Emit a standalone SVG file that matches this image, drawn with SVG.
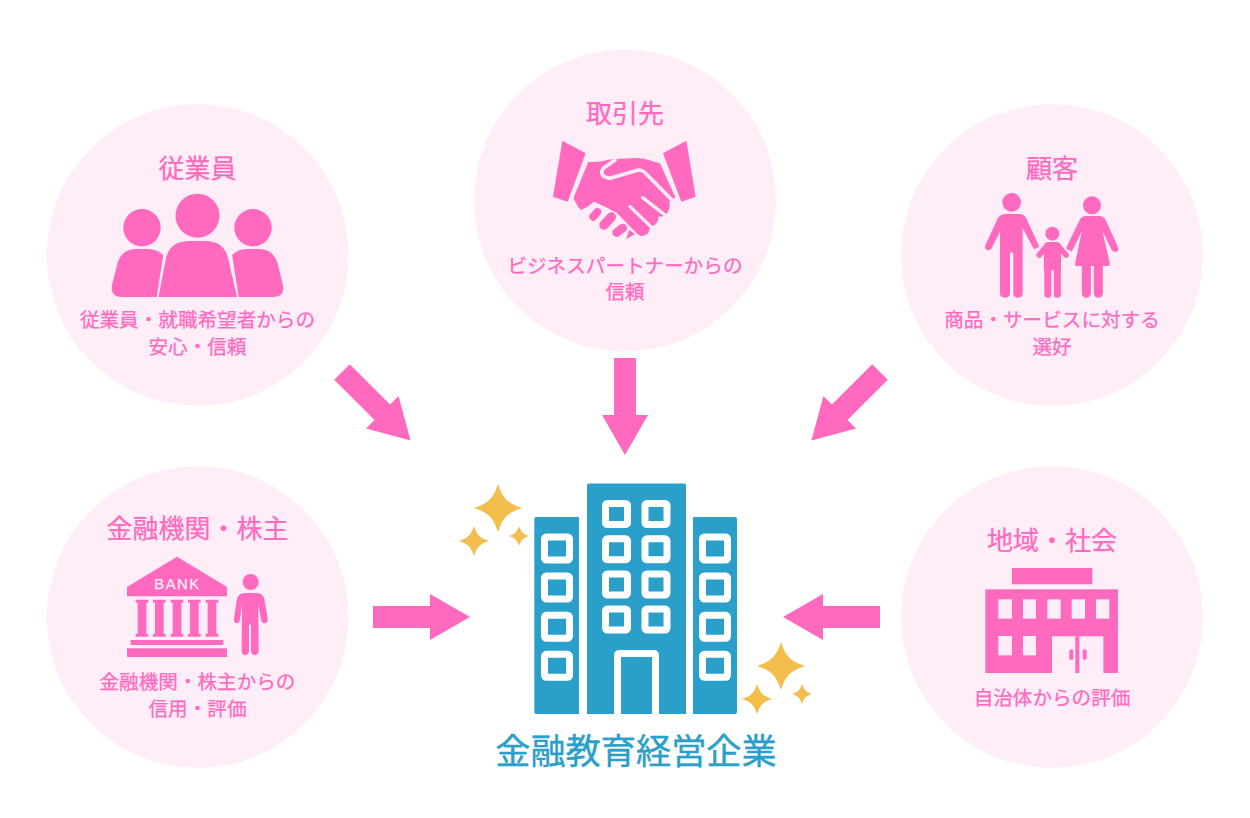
<svg xmlns="http://www.w3.org/2000/svg" width="1250" height="818" viewBox="0 0 1250 818">
<style>
text{font-family:"Noto Sans CJK JP","Noto Sans",sans-serif;text-anchor:middle;fill:#ff69be;stroke:#ff69be;stroke-width:.25px}
.t{font-size:26px}
.s{font-size:19.6px}
.bg{fill:#ffedf8}
.p{fill:#ff69be}
.ln{fill:none;stroke:#ff69be;stroke-linecap:round;stroke-linejoin:round}
.cut{fill:none;stroke:#ffedf8;stroke-linecap:round;stroke-linejoin:round}
.b{fill:#2a9fca}
.w{fill:none;stroke:#fff;stroke-width:7}
.star{fill:#f4be4c}
</style>
<defs>
<path id="arrow" class="p" d="M-11 0H11V57H23L0 97L-23 57H-11Z"/>
<path id="star" d="M0-1C.2-.4.4-.2 1 0C.4.2.2.4 0 1C-.2.4-.4.2-1 0C-.4-.2-.2-.4 0-1Z"/>
<rect id="wl" class="w" width="25" height="23" rx="2"/>
<rect id="wc" class="w" width="22" height="21" rx="2"/>
</defs>
<rect width="1250" height="818" fill="#fff"/>
<g id="connectors">
<use href="#arrow" transform="translate(625,358)"/>
<use href="#arrow" transform="translate(342,372) rotate(-45)"/>
<use href="#arrow" transform="translate(880,372) rotate(45)"/>
<use href="#arrow" transform="translate(373,617) rotate(-90)"/>
<use href="#arrow" transform="translate(880,617) rotate(90)"/>
</g>
<g id="employees">
<circle class="bg" cx="197.700" cy="255" r="151"/>
<text class="t" x="197.500" y="178">従業員</text>
<circle class="p" cx="197.500" cy="215.700" r="22"/>
<circle class="p" cx="142" cy="227.700" r="18.700"/>
<circle class="p" cx="253" cy="227.700" r="18.700"/>
<path class="p" d="M158.500 297L166 258Q170 241 190 241H205Q224 241 228 258L237 297Z"/>
<path class="p" d="M156.700 297L163.300 255Q157 249 148 249H136Q121 249 117 265L112 285Q110 297 122 297Z"/>
<path class="p" d="M238.700 297L232.100 255Q238 249 247 249H259Q274 249 278 265L283 285Q285 297 273 297Z"/>
<text class="s" x="197.500" y="327">従業員・就職希望者からの</text>
<text class="s" x="197.500" y="354">安心・信頼</text>
</g>
<g id="partners">
<circle class="bg" cx="625" cy="200.500" r="151"/>
<text class="t" x="625" y="123">取引先</text>
<g transform="translate(520,90) scale(.33333)">
<path class="p" d="M127 152L197 190L143 335L99 320Z"/>
<path class="p" d="M499 152L429 190L484 335L527 320Z"/>
</g>
<g transform="translate(570,150) scale(.33333)">
<path class="p" d="M55 35C80 40 110 28 135 27L205 24C230 26 250 35 270 40L316 142L298 155Q304 180 283 198L265 200Q268 220 240 233Q238 258 212 258L200 250L140 188L105 170L72 155L50 172L33 180L25 172L10 145Z"/>
<path class="cut" stroke-width="11" d="M135 30L100 55Q85 80 120 85L205 60Q220 60 232 75L308 152"/>
<path class="cut" stroke-width="10" d="M180 170L245 232M218 143L285 195"/>
<path class="ln" stroke-width="24" d="M70 200L82 186"/>
<path class="ln" stroke-width="28" d="M102 225L124 201"/>
<path class="ln" stroke-width="26" d="M140 248L158 234"/>
<path class="p" d="M168 268L195 252L178 240Z"/>
</g>
<text class="s" x="625" y="272.500">ビジネスパートナーからの</text>
<text class="s" x="625" y="299">信頼</text>
</g>
<g id="customers">
<circle class="bg" cx="1052" cy="255" r="151"/>
<text class="t" x="1052" y="178">顧客</text>
<g transform="translate(980,190) scale(.33333)">
<circle class="p" cx="95" cy="37" r="28"/>
<path class="p" d="M75 72H118Q132 72 139 85L178 170L162 178L128 115V310Q128 323 114 323Q100 323 100 310V190Q95 183 90 190V310Q90 323 75 323Q60 323 60 310V125L35 175Q28 185 18 178Q12 172 18 162L50 92Q58 72 75 72Z"/>
<circle class="p" cx="217" cy="131" r="21"/>
<path class="p" d="M192 240V170Q192 156 206 156H229Q243 156 243 170V240Z"/>
<path class="ln" stroke-width="17" d="M197 172L178 195M238 172L258 195"/>
<path class="ln" stroke-width="21" d="M203.500 235V313M232 235V313"/>
<circle class="p" cx="336" cy="46" r="27"/>
<path class="p" d="M318 78H358Q372 78 378 92L414 172Q418 183 408 186Q398 188 394 178L367 122L390 222Q390 228 384 228H290Q284 228 285 222L305 125L275 185L258 175L298 92Q304 78 318 78Z"/>
<path class="ln" stroke-width="27" d="M319 225V310M355 225V310"/>
</g>
<text class="s" x="1052" y="327">商品・サービスに対する</text>
<text class="s" x="1052" y="354">選好</text>
</g>
<g id="investors">
<circle class="bg" cx="197.700" cy="617" r="151"/>
<text class="t" x="197.500" y="538.300">金融機関・株主</text>
<g transform="translate(120,555) scale(.33333)">
<path class="p" d="M171 5L321 96V124H21V96Z"/>
<g class="p">
<path d="M47 134H85V143H79V236H85V245H47V236H53V143H47Z"/>
<path d="M99 134H137V143H131V236H137V245H99V236H105V143H99Z"/>
<path d="M152 134H190V143H184V236H190V245H152V236H158V143H152Z"/>
<path d="M204 134H242V143H236V236H242V245H204V236H210V143H204Z"/>
<path d="M257 134H295V143H289V236H295V245H257V236H263V143H257Z"/>
<rect x="32" y="255" width="278" height="15"/>
<rect x="21" y="280" width="300" height="26"/>
</g>
<circle class="p" cx="392" cy="81" r="24"/>
<path class="p" d="M375 114H410Q428 114 433 132L443 190Q445 205 434 205Q424 205 423 192L415 150L416 285Q416 300 404 300Q393 300 393 285V210Q390 205 387 210V285Q387 300 376 300Q365 300 365 285L366 150L360 192Q358 205 350 205Q341 205 342 190L351 132Q356 114 375 114Z"/>
</g>
<text x="177.500" y="589.300" style="font-family:'Liberation Sans',sans-serif;font-size:14.800px;fill:#ffedf8;stroke:#ffedf8;letter-spacing:1.500px">BANK</text>
<text class="s" x="197.500" y="689">金融機関・株主からの</text>
<text class="s" x="197.500" y="716">信用・評価</text>
</g>
<g id="community">
<circle class="bg" cx="1052" cy="617" r="151"/>
<text class="t" x="1052" y="549.500">地域・社会</text>
<g transform="translate(970,520) scale(.33333)">
<rect class="p" x="126" y="144" width="241" height="49" rx="3"/>
<rect class="p" x="46" y="208" width="398" height="251"/>
<g class="bg">
<rect x="85" y="238" width="41" height="58"/>
<rect x="159" y="238" width="39" height="58"/>
<rect x="232" y="238" width="40" height="58"/>
<rect x="305" y="238" width="40" height="58"/>
<rect x="378" y="238" width="40" height="58"/>
<rect x="85" y="348" width="41" height="58"/>
<rect x="159" y="348" width="39" height="58"/>
<rect x="246" y="349" width="154" height="110"/>
</g>
<rect class="p" x="316" y="349" width="12" height="110"/>
<rect class="p" x="298" y="388" width="12" height="32" rx="6"/>
<rect class="p" x="338" y="388" width="12" height="32" rx="6"/>
</g>
<text class="s" x="1052" y="705">自治体からの評価</text>
</g>
<g id="company">
<path class="b" d="M534.300 519Q534.300 517 536.300 517H579V714H536.300Q534.300 714 534.300 712Z"/>
<path class="b" d="M587 485.500Q587 483.500 589 483.500H684Q686 483.500 686 485.500V714H587Z"/>
<path class="b" d="M693 517H735Q737 517 737 519V712Q737 714 735 714H693Z"/>
<use href="#wl" x="544.500" y="537"/><use href="#wl" x="544.500" y="576"/><use href="#wl" x="544.500" y="615.300"/><use href="#wl" x="544.500" y="654.300"/>
<use href="#wl" x="702.500" y="537"/><use href="#wl" x="702.500" y="576"/><use href="#wl" x="702.500" y="615.300"/><use href="#wl" x="702.500" y="654.300"/>
<use href="#wc" x="605.500" y="503.500"/><use href="#wc" x="645" y="503.500"/>
<use href="#wc" x="605.500" y="538.800"/><use href="#wc" x="645" y="538.800"/>
<use href="#wc" x="605.500" y="574"/><use href="#wc" x="645" y="574"/>
<use href="#wc" x="605.500" y="609"/><use href="#wc" x="645" y="609"/>
<path d="M617.500 714V655.500Q617.500 653.500 619.500 653.500H653.500Q655.500 653.500 655.500 655.500V714" fill="none" stroke="#fff" stroke-width="7"/>
<g class="star">
<use href="#star" transform="translate(498,508) scale(24)"/>
<use href="#star" transform="translate(474,541) scale(15)"/>
<use href="#star" transform="translate(519,536) scale(10)"/>
<use href="#star" transform="translate(781,666) scale(24)"/>
<use href="#star" transform="translate(757,699) scale(15)"/>
<use href="#star" transform="translate(802,694) scale(10)"/>
</g>
<text x="636" y="764" style="font-size:35.200px;fill:#2a9fca;stroke:#2a9fca;stroke-width:.4px">金融教育経営企業</text>
</g>
</svg>
